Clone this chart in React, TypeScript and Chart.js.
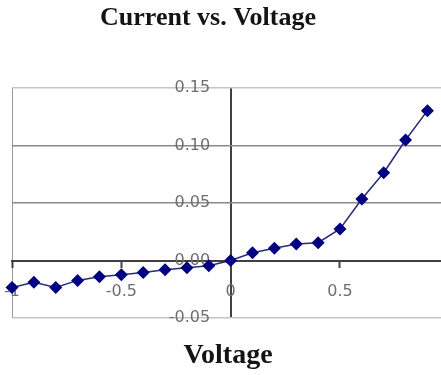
import React, { useEffect, useRef } from "react";
import { Chart, registerables } from "chart.js";

Chart.register(...registerables);

const voltage = [-1, -0.9, -0.8, -0.7, -0.6, -0.5, -0.4, -0.3, -0.2, -0.1, 0, 0.1, 0.2, 0.3, 0.4, 0.5, 0.6, 0.7, 0.8, 0.9];
const current = [-0.0235, -0.019, -0.0235, -0.0173, -0.0141, -0.0124, -0.0105, -0.008, -0.0063, -0.0046, 0, 0.0068, 0.0106, 0.0143, 0.0155, 0.0274, 0.0535, 0.0763, 0.1048, 0.1303];

const chartTitle = "Current vs. Voltage";
const xAxisTitle = "Voltage";

const near = (a: number, b: number) => Math.abs(a - b) < 1e-9;

const zeroPadding = (scale: any) => {
  scale.paddingLeft = 0;
  scale.paddingRight = 0;
  scale.paddingTop = 0;
  scale.paddingBottom = 0;
};

export default function App() {
  const ref = useRef<HTMLCanvasElement>(null);

  useEffect(() => {
    if (!ref.current) return;
    const textPlugin = {
      id: "texts",
      afterDraw(chart: any) {
        const ctx = chart.ctx;
        ctx.save();
        ctx.fillStyle = "#141414";
        ctx.textAlign = "center";
        ctx.textBaseline = "alphabetic";
        ctx.font = 'bold 26px "Liberation Serif"';
        ctx.fillText(chartTitle, 208, 25);
        ctx.font = 'bold 28px "Liberation Serif"';
        ctx.fillText(xAxisTitle, 228, 363);
        ctx.restore();
      },
    };
    const tickFont = { family: "DejaVu Sans", size: 16 };
    const chart = new Chart(ref.current, {
      type: "scatter",
      data: {
        datasets: [
          {
            data: voltage.map((v, i) => ({ x: v, y: current[i] })),
            showLine: true,
            borderColor: "#2a2a78",
            borderWidth: 1.5,
            pointStyle: "rectRot",
            pointRadius: 6.5,
            pointBackgroundColor: "#000080",
            pointBorderColor: "#000080",
            pointBorderWidth: 0,
            clip: false,
          } as any,
        ],
      },
      options: {
        responsive: false,
        animation: false,
        layout: { autoPadding: false, padding: { left: 12, right: 0, top: 88, bottom: 57 } },
        plugins: {
          legend: { display: false },
          tooltip: { enabled: false },
          title: { display: false },
        },
        scales: {
          x: {
            type: "linear",
            position: { y: 0 } as any,
            min: -1,
            max: 0.962,
            afterFit: zeroPadding,
            ticks: {
              stepSize: 0.5,
              includeBounds: false,
              autoSkip: false,
              maxRotation: 0,
              padding: 16,
              font: tickFont,
              color: "#6e6e6e",
              callback: (v: any) => String(Math.round(Number(v) * 10) / 10),
            },
            grid: {
              drawOnChartArea: true,
              color: (c: any) => {
                const v = c.tick ? c.tick.value : NaN;
                if (near(v, -1)) return "#9a9a9a";
                if (near(v, 0)) return "#404040";
                return "rgba(0,0,0,0)";
              },
              lineWidth: (c: any) => (c.tick && near(c.tick.value, 0) ? 2 : 1),
              tickColor: "#404040",
              tickLength: 6,
              tickWidth: 2,
            },
            border: { display: true, color: "#404040", width: 2 },
          },
          y: {
            type: "linear",
            position: { x: -0.0938 } as any,
            min: -0.05,
            max: 0.15,
            afterFit: zeroPadding,
            ticks: {
              stepSize: 0.05,
              font: tickFont,
              color: "#6e6e6e",
              callback: (v: any) => Number(v).toFixed(2),
            },
            grid: {
              drawTicks: false,
              color: (c: any) => {
                const v = c.tick ? c.tick.value : NaN;
                if (near(v, 0)) return "rgba(0,0,0,0)";
                if (near(v, 0.15) || near(v, -0.05)) return "#c4c4c4";
                return "#8a8a8a";
              },
              lineWidth: 1.5,
            },
            border: { display: false },
          },
        },
      },
      plugins: [textPlugin],
    });
    return () => chart.destroy();
  }, []);

  return (
    <div style={{ position: "fixed", left: 0, top: 0, width: 441, height: 375, background: "#fff" }}>
      <canvas ref={ref} width={441} height={375} style={{ display: "block" }} />
    </div>
  );
}
